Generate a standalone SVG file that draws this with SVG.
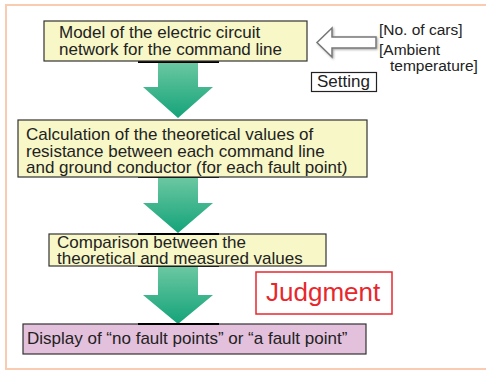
<svg xmlns="http://www.w3.org/2000/svg" width="486" height="371" viewBox="0 0 486 371">
<defs>
<linearGradient id="g" x1="0" y1="0" x2="0" y2="1">
<stop offset="0" stop-color="#6cc8a2"/>
<stop offset="1" stop-color="#14a379"/>
</linearGradient>
<filter id="sh" x="-20%" y="-20%" width="140%" height="140%">
<feGaussianBlur in="SourceAlpha" stdDeviation="1.2"/>
<feOffset dx="1" dy="1" result="b"/>
<feFlood flood-color="#000" flood-opacity="0.35"/>
<feComposite in2="b" operator="in"/>
<feMerge><feMergeNode/><feMergeNode in="SourceGraphic"/></feMerge>
</filter>
</defs>
<style>
.t{font-family:"Liberation Sans",Arial,sans-serif;font-size:17px;fill:#222}
.s{font-family:"Liberation Sans",Arial,sans-serif;font-size:15.5px;fill:#222}
.y{fill:#f7f7c8;stroke:#333;stroke-width:1.2}
.p{fill:#e3c0dc;stroke:#333;stroke-width:1.2}
.ga{fill:url(#g)}
.bl{stroke:#000;stroke-width:2}
</style>
<rect x="6" y="5" width="490" height="364" fill="#fff" stroke="#f9cbb0" stroke-width="2"/>
<g id="connectors">
<g id="arrow1">
<polygon class="ga" points="158,62 198,62 198,87 213,87 178,118 143,87 158,87"/>
<line class="bl" x1="138" y1="62" x2="219" y2="62"/>
</g>
<g id="arrow2">
<polygon class="ga" points="158,177 198,177 198,203 213,203 178,233 143,203 158,203"/>
<line class="bl" x1="138" y1="177" x2="219" y2="177"/>
</g>
<g id="arrow3">
<polygon class="ga" points="158,266 198,266 198,295 213,295 178,324 143,295 158,295"/>
<line class="bl" x1="138" y1="266" x2="219" y2="266"/>
</g>
<g id="arrow-setting">
<polygon points="317,42.5 332,28 332,37 376,37 376,48 332,48 332,57" fill="#fff" stroke="#777" stroke-width="1.5" filter="url(#sh)"/>
</g>
</g>
<g id="node-model">
<rect class="y" x="44" y="21" width="263" height="40"/>
<text class="t" x="59" y="38">Model of the electric circuit</text>
<text class="t" x="59" y="55">network for the command line</text>
</g>
<g id="node-calc">
<rect class="y" x="18" y="120" width="349" height="57"/>
<text class="t" x="26" y="140">Calculation of the theoretical values of</text>
<text class="t" x="26" y="156.5">resistance between each command line</text>
<text class="t" x="26" y="173">and ground conductor (for each fault point)</text>
</g>
<g id="node-compare">
<rect class="y" x="49" y="234" width="277" height="32"/>
<line class="bl" x1="138" y1="234" x2="219" y2="234"/>
<text class="t" x="57" y="248">Comparison between the</text>
<text class="t" x="57" y="264">theoretical and measured values</text>
</g>
<g id="node-display">
<rect class="p" x="23" y="324" width="343" height="30"/>
<line class="bl" x1="138" y1="324" x2="219" y2="324"/>
<text class="t" x="27" y="344">Display of “no fault points” or “a fault point”</text>
</g>
<g id="node-judgment">
<rect x="256" y="272" width="136" height="42" fill="#fff" stroke="#e8272d" stroke-width="1.5"/>
<text x="266" y="301" font-family="Liberation Sans, Arial, sans-serif" font-size="26" fill="#e8272d">Judgment</text>
</g>
<g id="node-setting">
<rect x="311.5" y="72.5" width="65" height="19" fill="#fff" stroke="#222" stroke-width="1.2"/>
<text class="t" x="317" y="87">Setting</text>
</g>
<g id="node-params">
<text class="s" x="379" y="35">[No. of cars]</text>
<text class="s" x="379" y="55">[Ambient</text>
<text class="s" x="390" y="71">temperature]</text>
</g>
</svg>
